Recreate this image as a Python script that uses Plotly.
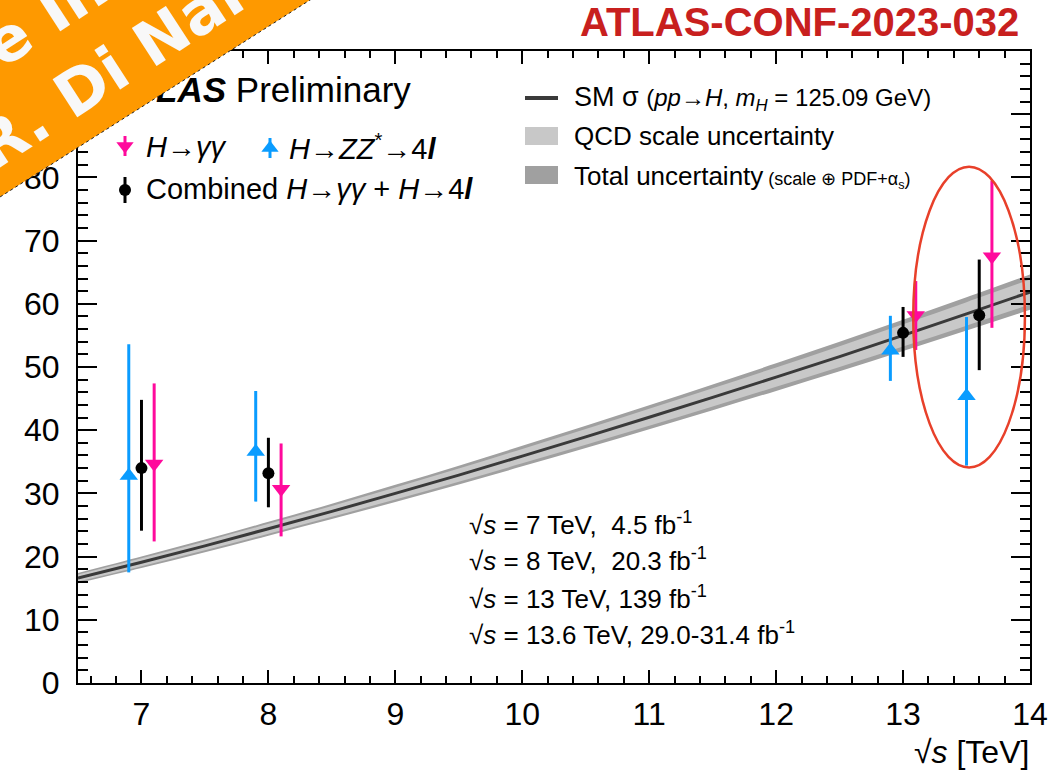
import plotly.graph_objects as go

# ---------------- measured cross sections [pb] ----------------
sqrt_s = [7.0, 8.0, 13.0, 13.6]

comb_xs = [34.0, 33.2, 55.4, 58.2]
comb_up = [10.8, 5.6, 4.1, 8.8]
comb_dn = [9.9, 5.4, 3.8, 8.7]

gg_xs = [34.7, 30.7, 58.2, 67.5]
gg_up = [12.7, 7.2, 5.4, 12.0]
gg_dn = [12.3, 7.5, 5.5, 11.3]

zz_xs = [32.8, 36.6, 52.6, 45.4]
zz_up = [20.8, 9.6, 5.5, 12.5]
zz_dn = [15.3, 7.9, 4.8, 11.0]

# ---------------- SM prediction, sigma(pp -> H) [pb] ----------------
sm_sqrt_s = [6.5, 7.0, 7.5, 8.0, 8.5, 9.0, 9.5, 10.0,
             10.5, 11.0, 11.5, 12.0, 12.5, 13.0, 13.5, 14.0]
sm_xs = [16.6, 19.1, 21.7, 24.4, 27.15, 30.0, 32.9, 35.9,
         38.95, 42.05, 45.2, 48.4, 51.65, 55.0, 58.4, 61.85]
sm_scale_unc = [0.55, 0.62, 0.70, 0.78, 0.86, 0.95, 1.04, 1.14,
                1.24, 1.34, 1.44, 1.54, 1.65, 1.75, 1.86, 1.98]
sm_total_unc = [0.80, 0.90, 1.00, 1.10, 1.22, 1.35, 1.48, 1.62,
                1.76, 1.90, 2.04, 2.18, 2.33, 2.48, 2.63, 2.80]

x_ticks = [7, 8, 9, 10, 11, 12, 13, 14]
y_ticks = [0, 10, 20, 30, 40, 50, 60, 70, 80, 90, 100]

lumi_labels = [
    "√<i>s</i> = 7 TeV,\u00a0\u00a04.5 fb<sup>-1</sup>",
    "√<i>s</i> = 8 TeV,\u00a0\u00a020.3 fb<sup>-1</sup>",
    "√<i>s</i> = 13 TeV, 139 fb<sup>-1</sup>",
    "√<i>s</i> = 13.6 TeV, 29.0-31.4 fb<sup>-1</sup>",
]

# ---------------- style ----------------
FONT = "Liberation Sans, Arial, Helvetica, sans-serif"
C_GG = "#ff0a9c"
C_ZZ = "#0a9cff"
C_COMB = "#000000"
C_LINE = "#3a3a3a"
C_SCALE = "#c8c8c8"
C_TOTAL = "#a0a0a0"
C_BANNER = "#fe9900"

W, H = 1060, 779
ML, MR, MT, MB = 78, 30, 51, 96
PW, PH = W - ML - MR, H - MT - MB


def px(X):
    """pixel column -> paper fraction"""
    return (X - ML) / PW


def py(Y):
    """pixel row -> paper fraction"""
    return (H - MB - Y) / PH


fig = go.Figure()

# SM band: total uncertainty, then QCD scale on top, then central value
tot_hi = [v + e for v, e in zip(sm_xs, sm_total_unc)]
tot_lo = [v - e for v, e in zip(sm_xs, sm_total_unc)]
sc_hi = [v + e for v, e in zip(sm_xs, sm_scale_unc)]
sc_lo = [v - e for v, e in zip(sm_xs, sm_scale_unc)]

fig.add_trace(go.Scatter(x=sm_sqrt_s, y=tot_hi, mode="lines",
                         line=dict(width=0, shape="spline"), hoverinfo="skip"))
fig.add_trace(go.Scatter(x=sm_sqrt_s, y=tot_lo, mode="lines", fill="tonexty",
                         fillcolor=C_TOTAL, line=dict(width=0, shape="spline"),
                         hoverinfo="skip"))
fig.add_trace(go.Scatter(x=sm_sqrt_s, y=sc_hi, mode="lines",
                         line=dict(width=0, shape="spline"), hoverinfo="skip"))
fig.add_trace(go.Scatter(x=sm_sqrt_s, y=sc_lo, mode="lines", fill="tonexty",
                         fillcolor=C_SCALE, line=dict(width=0, shape="spline"),
                         hoverinfo="skip"))
fig.add_trace(go.Scatter(x=sm_sqrt_s, y=sm_xs, mode="lines",
                         line=dict(width=3, color=C_LINE, shape="spline")))

# measurements, channels displaced horizontally for readability
def channel(vals, up, dn, offset, color, symbol, size):
    fig.add_trace(go.Scatter(
        x=[s + offset for s in sqrt_s], y=vals, mode="markers",
        marker=dict(symbol=symbol, size=size, color=color, line=dict(width=0)),
        error_y=dict(type="data", symmetric=False, array=up, arrayminus=dn,
                     color=color, thickness=3, width=0),
        cliponaxis=False,
    ))


channel(zz_xs, zz_up, zz_dn, -0.1, C_ZZ, "triangle-up", 16)
channel(comb_xs, comb_up, comb_dn, 0.0, C_COMB, "circle", 12)
channel(gg_xs, gg_up, gg_dn, +0.1, C_GG, "triangle-down", 16)

# legend keys on an overlay frame spanning the plot area (0..1 both ways)
def key(X, Y, half, color, symbol, size):
    fig.add_trace(go.Scatter(
        x=[px(X)], y=[py(Y)], xaxis="x2", yaxis="y2", mode="markers",
        marker=dict(symbol=symbol, size=size, color=color),
        error_y=dict(type="constant", value=half / PH, color=color,
                     thickness=3, width=0),
        cliponaxis=False,
    ))


key(125, 146, 10, C_GG, "triangle-down", 15)
key(270, 148, 10, C_ZZ, "triangle-up", 15)
key(125, 190, 13, C_COMB, "circle", 12)

# ATLAS label sits under the corner ribbon, so draw it as a text trace
fig.add_trace(go.Scatter(
    x=[px(112)], y=[py(93)], xaxis="x2", yaxis="y2", mode="text",
    text=["<b><i>ATLAS</i></b>\u00a0Preliminary"], textposition="middle right",
    textfont=dict(family=FONT, size=35, color="black"), cliponaxis=False,
))

shapes = []
# right-hand legend keys
shapes.append(dict(type="line", xref="paper", yref="paper",
                   x0=px(525), x1=px(558), y0=py(98), y1=py(98),
                   line=dict(color=C_LINE, width=4)))
shapes.append(dict(type="rect", xref="paper", yref="paper",
                   x0=px(525), x1=px(558), y0=py(145), y1=py(127),
                   fillcolor=C_SCALE, line=dict(width=0)))
shapes.append(dict(type="rect", xref="paper", yref="paper",
                   x0=px(525), x1=px(558), y0=py(184), y1=py(166),
                   fillcolor=C_TOTAL, line=dict(width=0)))
# highlight of the 13.6 TeV results
shapes.append(dict(type="circle", xref="x", yref="y",
                   x0=13.08, x1=13.96, y0=34.1, y1=81.7,
                   line=dict(color="#e8402a", width=2.5)))
# corner ribbon
ex = 310.0
ey = 197.0
slope = ey / ex
shapes.append(dict(type="path", xref="paper", yref="paper", layer="above",
                   path=(f"M {px(-60)},{py(-60)} L {px(ex + 60 / slope)},{py(-60)} "
                         f"L {px(-60)},{py(ey + 60 * slope)} Z"),
                   fillcolor=C_BANNER, line=dict(width=0)))
shapes.append(dict(type="line", xref="paper", yref="paper", layer="above",
                   x0=px(-10), y0=py(ey + 10 * slope), x1=px(ex + 10 / slope), y1=py(-10),
                   line=dict(color="#222222", width=1, dash="dot")))

annotations = []


def text(t, X, Y, size, anchor="left", color="black", family=FONT, angle=0):
    annotations.append(dict(
        text=t, xref="paper", yref="paper", x=px(X), y=py(Y),
        xanchor=anchor, yanchor="middle", showarrow=False, textangle=angle,
        font=dict(family=family, size=size, color=color),
    ))


text("<i>H</i>→<i>γγ</i>", 144, 147, 29)
text("<i>H</i>→<i>ZZ</i><sup>*</sup>→4<b><i>l</i></b>", 287, 147, 29)
text("Combined <i>H</i>→<i>γγ</i> + <i>H</i>→4<b><i>l</i></b>", 144, 189, 29)

text("SM σ <span style='font-size:24px'>(<i>pp</i>→<i>H</i>, <i>m</i><sub><i>H</i></sub>"
     " = 125.09 GeV)</span>", 572, 99, 27)
text("QCD scale uncertainty", 572, 136, 26)
text("Total uncertainty<span style='font-size:18px'> (scale ⊕ PDF+α<sub>s</sub>)</span>",
     572, 176, 26)

for i, lab in enumerate(lumi_labels):
    text(lab, 467, [523, 559, 597, 633][i], 26)

text("√<i>s</i> [TeV]", 1031, 752, 32, anchor="right")
text("<b>ATLAS-CONF-2023-032</b>", 1021, 22, 40, anchor="right", color="#c8201e")

# ribbon lettering
BAN_FONT = "DejaVu Sans, sans-serif"
text("<b>More Info</b>", 17, 33, 62, anchor="center", color="#f8f8f8",
     family=BAN_FONT, angle=-33)
text("<b>R. Di Nardo</b>", 150, 45, 62, anchor="center", color="#f8f8f8",
     family=BAN_FONT, angle=-33)

axis_common = dict(
    showgrid=False, zeroline=False, showline=True, linecolor="black", linewidth=2,
    mirror="allticks", ticks="inside", tickcolor="black", tickwidth=1.5,
    automargin=False,
    tickfont=dict(family=FONT, size=32, color="black"),
)

fig.update_layout(
    width=W, height=H,
    margin=dict(l=ML, r=MR, t=MT, b=MB, pad=0, autoexpand=False),
    paper_bgcolor="white", plot_bgcolor="white",
    showlegend=False,
    xaxis=dict(range=[6.5, 14], tickvals=x_ticks, ticklen=13,
               ticklabelstandoff=2,
               minor=dict(dtick=0.2, tick0=7, ticks="inside", ticklen=7,
                          tickwidth=1.5, tickcolor="black"),
               **axis_common),
    yaxis=dict(range=[0, 100], tickvals=y_ticks, ticklen=19,
               ticklabelstandoff=10,
               minor=dict(dtick=2, ticks="inside", ticklen=10,
                          tickwidth=1.5, tickcolor="black"),
               **axis_common),
    xaxis2=dict(range=[0, 1], domain=[0, 1], overlaying="x", anchor="y2",
                visible=False, automargin=False),
    yaxis2=dict(range=[0, 1], domain=[0, 1], overlaying="y", anchor="x2",
                visible=False, automargin=False),
    shapes=shapes,
    annotations=annotations,
)

fig.write_html("out.html")
